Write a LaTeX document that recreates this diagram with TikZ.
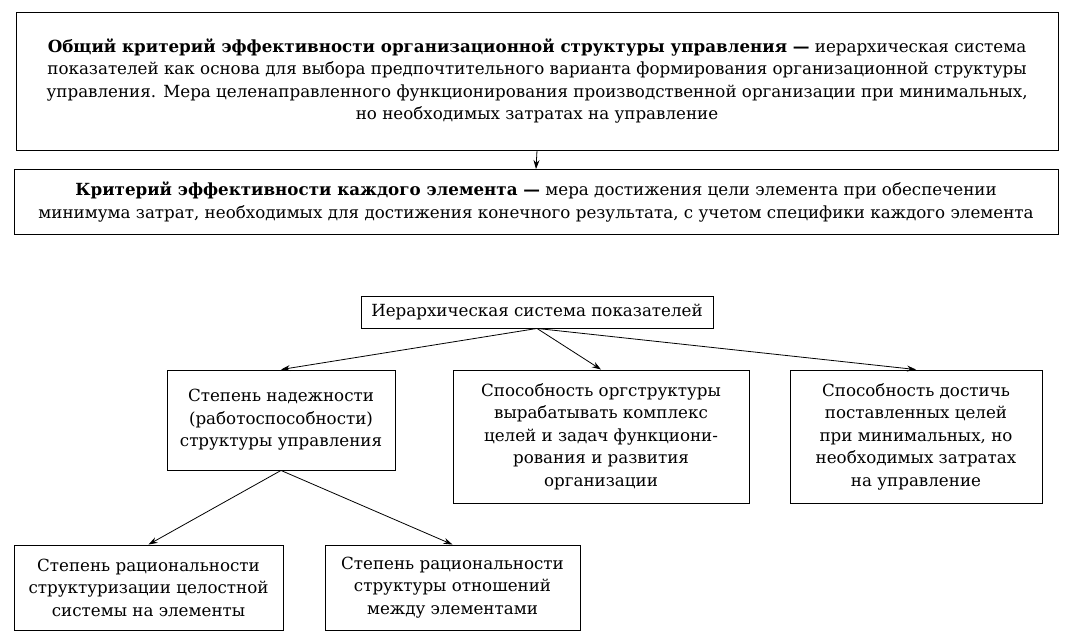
\documentclass[tikz,border=0pt]{standalone}
\usepackage{fontspec}
\setmainfont{DejaVu Serif}
\usetikzlibrary{arrows.meta}
\begin{document}
\begin{tikzpicture}[x=1pt,y=-1pt,
  bx/.style={draw,line width=0.9pt,inner sep=0pt,align=center,font=\fontsize{16.7}{22.5}\selectfont},
  ar/.style={-{Stealth[length=9pt,width=6pt]},line width=0.8pt}]
\useasboundingbox (0,0) rectangle (1077,644);
\node[bx,minimum width=1042pt,minimum height=138pt] (top) at (537,81)
 {\textbf{Общий критерий эффективности организационной структуры управления —} иерархическая система\\показателей как основа для выбора предпочтительного варианта формирования организационной структуры\\управления. Мера целенаправленного функционирования производственной организации при минимальных,\\но необходимых затратах на управление};
\node[bx,minimum width=1044pt,minimum height=65pt] (crit) at (536,202)
 {\textbf{Критерий эффективности каждого элемента —} мера достижения цели элемента при обеспечении\\минимума затрат, необходимых для достижения конечного результата, с учетом специфики каждого элемента};
\draw[ar] (top.south) -- (crit.north);
\node[bx,minimum width=352pt,minimum height=32pt] (h) at (537,312) {Иерархическая система показателей};
\node[bx,minimum width=228pt,minimum height=100pt] (a) at (281,420) {Степень надежности\\(работоспособности)\\структуры управления};
\node[bx,minimum width=296pt,minimum height=133pt] (b) at (601,436.5) {Способность оргструктуры\\вырабатывать комплекс\\целей и задач функциони-\\рования и развития\\организации};
\node[bx,minimum width=252pt,minimum height=133pt] (c) at (916,436.5) {Способность достичь\\поставленных целей\\при минимальных, но\\необходимых затратах\\на управление};
\node[bx,minimum width=269pt,minimum height=85pt] (d) at (148.5,587.5) {Степень рациональности\\структуризации целостной\\системы на элементы};
\node[bx,minimum width=255pt,minimum height=85pt] (e) at (452.5,587.5) {Степень рациональности\\структуры отношений\\между элементами};
\draw[ar] (h.south) -- (a.north);
\draw[ar] (h.south) -- (b.north);
\draw[ar] (h.south) -- (c.north);
\draw[ar] (a.south) -- (d.north);
\draw[ar] (a.south) -- (e.north);
\end{tikzpicture}
\end{document}
